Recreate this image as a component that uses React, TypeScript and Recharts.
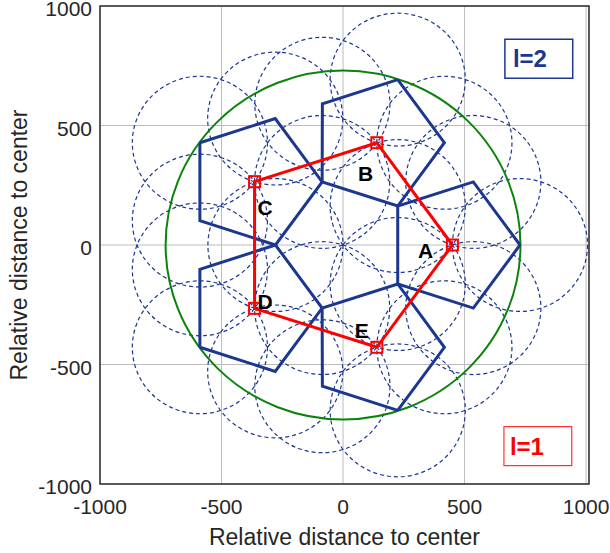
import React from "react";
import {
  ScatterChart,
  Scatter,
  XAxis,
  YAxis,
  CartesianGrid,
  ReferenceArea,
} from "recharts";

// level 1 cells (red pentagon corners)
const level1 = [
  { x: 450, y: 0 },
  { x: 139, y: 428 },
  { x: -364, y: 265 },
  { x: -364, y: -265 },
  { x: 139, y: -428 },
];

// level 2 pentagons, one around each level 1 point
const pentA = [[728, 0], [536, 264], [225, 163], [225, -163], [536, -264]];
const pentB = [[225, 692], [-85, 591], [-86, 264], [225, 163], [417, 428]];
const pentC = [[-589, 428], [-589, 102], [-278, 0], [-86, 264], [-279, 529]];
const pentD = [[-589, -428], [-279, -529], [-86, -264], [-278, 0], [-589, -102]];
const pentE = [[225, -692], [417, -428], [225, -163], [-86, -264], [-85, -591]];

// dashed coverage circles, centred on the pentagon corners
const circleCenters = [
  [728, 0], [536, 264], [225, 163], [225, -163], [536, -264],
  [225, 692], [-85, 591], [-86, 264], [417, 428],
  [-589, 428], [-589, 102], [-278, 0], [-279, 529],
  [-589, -428], [-279, -529], [-86, -264], [-589, -102],
  [225, -692], [417, -428], [-85, -591],
];
const circleRadius = 278;
const outerRadius = 730;

const pointLabels = [
  { x: 340, y: -25, name: "A" },
  { x: 93, y: 300, name: "B" },
  { x: -321, y: 158, name: "C" },
  { x: -321, y: -237, name: "D" },
  { x: 77, y: -359, name: "E" },
];

const ticks = [-1000, -500, 0, 500, 1000];

const BLUE = "#1b3790";
const RED = "#ff0000";
const GREEN = "#0b830b";
const TEXT = "#262626";

// px per data unit (plot area is 489 x 478)
const KX = 489 / 2012;
const KY = 478 / 2000;

const toPts = (arr: number[][]) => arr.map(([x, y]) => ({ x, y }));
const closed = (arr: { x: number; y: number }[]) => [...arr, arr[0]];

const pentagons = [pentA, pentB, pentC, pentD, pentE].map((p) => closed(toPts(p)));

const noShape = () => <g />;

const ellipseShape = (r: number, stroke: string, width: number, dash?: string) => (p: any) => (
  <ellipse
    cx={p.cx}
    cy={p.cy}
    rx={r * KX}
    ry={r * KY}
    fill="none"
    stroke={stroke}
    strokeWidth={width}
    strokeDasharray={dash}
  />
);

const squareShape = (p: any) => (
  <rect x={p.cx - 5.5} y={p.cy - 5.5} width={11} height={11} fill="none" stroke={RED} strokeWidth={2} />
);

const labelShape = (p: any) => (
  <text
    x={p.cx}
    y={p.cy}
    textAnchor="middle"
    dominantBaseline="central"
    fontSize={21}
    fontWeight="bold"
    fill="#000"
  >
    {p.payload.name}
  </text>
);

const YTitle = () => (
  <text
    x={19}
    y={245}
    transform="rotate(-90 19 245)"
    textAnchor="middle"
    dominantBaseline="central"
    fontSize={23}
    fill={TEXT}
  >
    Relative distance to center
  </text>
);

export default function App() {
  return (
    <div style={{ position: "absolute", left: 0, top: 0, background: "#fff", fontFamily: "'Liberation Sans', Arial, sans-serif" }}>
      <ScatterChart width={610} height={553} margin={{ top: 6, right: 21, bottom: 0, left: 0 }}>
        <CartesianGrid stroke="#bcbcbc" strokeWidth={1} />
        <XAxis
          type="number"
          dataKey="x"
          domain={[-1000, 1012]}
          allowDataOverflow
          ticks={ticks}
          interval={0}
          height={69}
          axisLine={false}
          tickLine={false}
          tickSize={0}
          tickMargin={15}
          tick={{ fontSize: 21, fill: TEXT }}
          label={{ value: "Relative distance to center", position: "insideBottom", offset: 8, fontSize: 23, fill: TEXT }}
        />
        <YAxis
          type="number"
          dataKey="y"
          domain={[-1000, 1000]}
          allowDataOverflow
          ticks={ticks}
          interval={0}
          width={100}
          axisLine={false}
          tickLine={false}
          tickSize={0}
          tickMargin={8}
          tick={{ fontSize: 21, fill: TEXT, dy: 3 }}
          label={<YTitle />}
        />
        <ReferenceArea x1={-1000} x2={1012} y1={-1000} y2={1000} fill="none" stroke="#2e2e2e" strokeWidth={1.5} fillOpacity={0} />

        <Scatter
          data={toPts(circleCenters)}
          shape={ellipseShape(circleRadius, BLUE, 1.2, "4 3")}
          isAnimationActive={false}
        />
        <Scatter
          data={[{ x: 0, y: 0 }]}
          shape={ellipseShape(outerRadius, GREEN, 2)}
          isAnimationActive={false}
        />
        {pentagons.map((p, i) => (
          <Scatter
            key={i}
            data={p}
            line={{ stroke: BLUE, strokeWidth: 3 }}
            lineType="joint"
            shape={noShape}
            isAnimationActive={false}
          />
        ))}
        <Scatter
          data={closed(level1)}
          line={{ stroke: RED, strokeWidth: 3 }}
          lineType="joint"
          shape={noShape}
          isAnimationActive={false}
        />
        <Scatter data={level1} shape={squareShape} isAnimationActive={false} />
        <Scatter data={pointLabels} shape={labelShape} isAnimationActive={false} />

        <ReferenceArea
          x1={666}
          x2={945}
          y1={698}
          y2={861}
          fill="#fff"
          fillOpacity={1}
          stroke={BLUE}
          strokeWidth={1.5}
          label={{ value: "l=2", position: "insideLeft", offset: 8, fill: BLUE, fontSize: 24, fontWeight: "bold" }}
        />
        <ReferenceArea
          x1={662}
          x2={941}
          y1={-923}
          y2={-760}
          fill="#fff"
          fillOpacity={1}
          stroke="#ff3333"
          strokeWidth={1.2}
          label={{ value: "l=1", position: "insideLeft", offset: 6, fill: RED, fontSize: 24, fontWeight: "bold" }}
        />
      </ScatterChart>
    </div>
  );
}
